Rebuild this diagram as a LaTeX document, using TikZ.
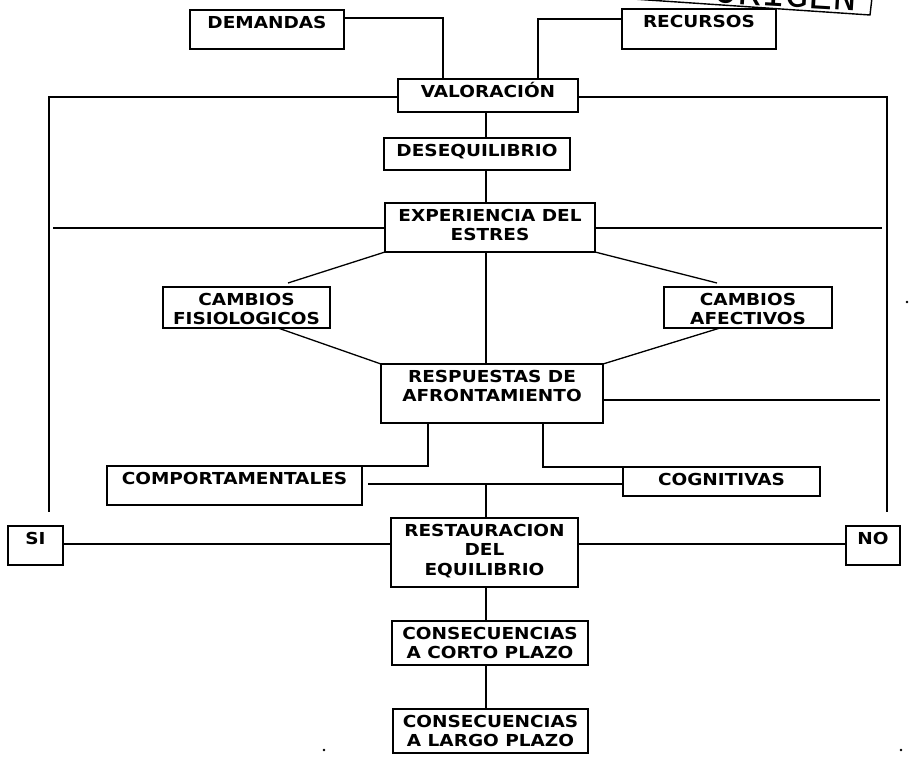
\documentclass[tikz,border=0pt]{standalone}
\usepackage{fontspec}
\newfontfamily\bfont{DejaVu Sans}[FakeStretch=1.12]
\newfontfamily\stampfont{Liberation Mono}
\tikzset{
  bx/.style={draw, line width=1.4pt, inner sep=0pt, outer sep=0pt},
  lbl/.style={anchor=north, inner sep=0pt, yshift=-6pt, align=center,
    font=\bfont\bfseries\fontsize{16.5}{19.5}\selectfont},
  conn/.style={line width=1.3pt},
}
\newcommand\mkbox[6]{%
  \node[bx, minimum width={(#4-#2)*1pt}, minimum height={(#5-#3)*1pt},
    label={[lbl, name=#1t]north:#6}] (#1) at ({(#2+#4)/2},{(#3+#5)/2}) {};}
\begin{document}
\begin{tikzpicture}[x=1pt,y=-1pt]
\path[use as bounding box, fill=white] (0,0) rectangle (918,760);

% boxes
\mkbox{dem}{190}{10}{344}{49}{DEMANDAS}
\mkbox{rec}{622}{9}{776}{49}{RECURSOS}
\mkbox{val}{398}{79}{578}{112}{VALORACI\smash{Ó}N}
\mkbox{deseq}{384}{138}{570}{170}{DESEQUILIBRIO}
\mkbox{exp}{385}{203}{595}{252}{EXPERIENCIA DEL\\ESTRES}
\mkbox{fis}{163}{287}{330}{328}{CAMBIOS\\FISIOLOGICOS}
\mkbox{afe}{664}{287}{832}{328}{CAMBIOS\\AFECTIVOS}
\mkbox{resp}{381}{364}{603}{423}{RESPUESTAS DE\\AFRONTAMIENTO}
\mkbox{comp}{107}{466}{362}{505}{COMPORTAMENTALES}
\mkbox{cog}{623}{467}{820}{496}{COGNITIVAS}
\mkbox{si}{8}{526}{63}{565}{SI}
\mkbox{rest}{391}{518}{578}{587}{RESTAURACION\\DEL\\EQUILIBRIO}
\mkbox{no}{846}{526}{900}{565}{NO}
\mkbox{corto}{392}{621}{588}{665}{CONSECUENCIAS\\A CORTO PLAZO}
\mkbox{largo}{393}{709}{588}{753}{CONSECUENCIAS\\A LARGO PLAZO}

% helper coordinates
\coordinate (sp) at (486,0);
\coordinate (lt) at (49,97);
\coordinate (lb) at (49,512);
\coordinate (rt) at (887,97);
\coordinate (rb) at (887,512);
\coordinate (el) at (53,228);
\coordinate (er) at (882,228);
\coordinate (rr) at (880,400);
\coordinate (ml) at (368,484);
\coordinate (sl) at ([yshift=1.5pt]si.east);
\coordinate (nl) at ([yshift=1.5pt]no.west);

% connectors
\draw[conn] ([yshift=-8pt]dem.north east) -| ([xshift=-45pt]val.north);
\draw[conn] ([yshift=-10pt]rec.north west) -| ([xshift=50pt]val.north);
\draw[conn] (val.west |- lt) -- (lt) -- (lb);
\draw[conn] (val.east |- rt) -- (rt) -- (rb);
\draw[conn] (val.south -| sp) -- (deseq.north -| sp);
\draw[conn] (deseq.south -| sp) -- (exp.north -| sp);
\draw[conn] (el) -- (exp.west |- el);
\draw[conn] (exp.east |- er) -- (er);
\draw[conn] (exp.south -| sp) -- (resp.north -| sp);
\draw[conn] (exp.south west) -- ([xshift=41.5pt,yshift=4pt]fis.north);
\draw[conn] ([xshift=31.5pt]fis.south) -- (resp.north west);
\draw[conn] (exp.south east) -- ([xshift=-31pt,yshift=4pt]afe.north);
\draw[conn] ([xshift=-28pt]afe.south) -- (resp.north east);
\draw[conn] (resp.east |- rr) -- (rr);
\draw[conn] ([xshift=-64pt]resp.south) |- (comp.north east);
\draw[conn] ([xshift=51pt]resp.south) |- (cog.north west);
\draw[conn] (ml) -- (cog.west |- ml);
\draw[conn] (sp |- ml) -- (rest.north -| sp);
\draw[conn] (sl) -- (rest.west |- sl);
\draw[conn] (rest.east |- nl) -- (nl);
\draw[conn] (rest.south -| sp) -- (corto.north -| sp);
\draw[conn] (corto.south -| sp) -- (largo.north -| sp);

% specks
\fill (907,302) circle (1.3);
\fill (324,750) circle (1.3);
\fill (901,750) circle (1.3);

% partial stamp
\begin{scope}
\clip (0,0) rectangle (918,760);
\draw[line width=1.4pt] (618,-2) -- (870,15) -- (874,-20);
\node[font=\stampfont\fontsize{40}{40}\selectfont, rotate=-3.4, anchor=base, inner sep=0pt] (stamp) at (785,7) {ORIGEN};
\end{scope}
\end{tikzpicture}
\end{document}
